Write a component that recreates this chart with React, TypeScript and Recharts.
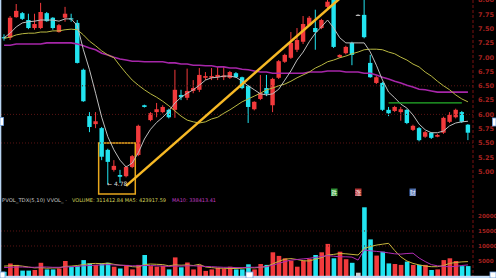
import React from 'react';
import { ComposedChart, Bar, Line, XAxis, YAxis, ReferenceLine, ReferenceArea, Cell } from 'recharts';

const opens = [7.35, 7.34, 7.70, 7.77, 7.65, 7.51, 7.51, 7.77, 7.69, 7.44,
  7.69, 7.68, 7.60, 6.78, 5.97, 5.83, 5.76, 5.38, 5.03, 4.94,
  4.92, 5.08, 5.29, 6.16, 5.90, 6.04, 6.04, 6.08, 6.08, 6.34,
  6.29, 6.41, 6.43, 6.64, 6.64, 6.65, 6.65, 6.64, 6.72, 6.65,
  6.50, 6.09, 6.27, 6.46, 6.16, 6.64, 6.92, 6.99, 7.13, 7.27,
  7.56, 7.51, 7.51, 7.88, 8.02, 7.00, 7.07, 7.25, 7.74, 7.74,
  6.90, 6.55, 6.55, 6.08, 6.06, 6.04, 6.08, 5.73, 5.76, 5.61,
  5.68, 5.61, 5.68, 5.87, 5.95, 6.04, 5.82];
const closes = [7.33, 7.69, 7.81, 7.67, 7.51, 7.58, 7.79, 7.63, 7.51, 7.56,
  7.76, 7.66, 6.90, 6.23, 5.78, 5.88, 5.26, 5.17, 5.10, 4.91,
  5.08, 5.27, 5.80, 6.13, 6.02, 6.09, 6.13, 5.95, 6.43, 6.30,
  6.41, 6.46, 6.69, 6.67, 6.67, 6.69, 6.68, 6.74, 6.65, 6.46,
  6.13, 6.22, 6.37, 6.36, 6.62, 6.93, 7.04, 7.25, 7.30, 7.58,
  7.69, 7.44, 7.65, 7.97, 7.18, 7.04, 7.18, 7.04, 7.74, 7.35,
  6.65, 6.65, 6.08, 6.02, 6.13, 6.09, 5.85, 5.80, 5.55, 5.69,
  5.59, 5.64, 5.94, 5.99, 6.08, 5.87, 5.68];
const highs = [7.40, 7.72, 7.93, 7.79, 7.76, 7.76, 7.95, 7.79, 7.70, 7.58,
  7.88, 7.76, 7.65, 6.80, 6.04, 6.04, 5.78, 5.40, 5.20, 5.03,
  5.10, 5.29, 5.82, 6.17, 6.04, 6.20, 6.16, 6.10, 6.78, 6.43,
  6.80, 6.60, 6.81, 6.74, 6.81, 6.83, 6.83, 6.76, 6.74, 6.66,
  6.51, 6.23, 6.69, 6.69, 6.64, 6.95, 7.06, 7.44, 7.51, 7.72,
  7.72, 7.83, 7.67, 8.05, 8.10, 7.05, 7.20, 7.27, 7.75, 8.00,
  7.04, 6.67, 6.57, 6.13, 6.15, 6.13, 6.09, 5.82, 5.78, 5.71,
  5.69, 5.66, 5.96, 6.04, 6.10, 6.06, 5.83];
const lows = [7.29, 7.30, 7.69, 7.65, 7.49, 7.48, 7.49, 7.62, 7.48, 7.43,
  7.62, 7.62, 6.89, 6.22, 5.69, 5.76, 5.20, 4.78, 5.00, 4.80,
  4.90, 5.06, 5.27, 6.12, 5.88, 5.95, 6.02, 5.93, 5.94, 6.25,
  6.25, 6.37, 6.39, 6.60, 6.60, 6.60, 6.60, 6.62, 6.64, 6.44,
  5.85, 6.07, 6.25, 6.32, 6.04, 6.62, 6.90, 6.97, 7.09, 7.23,
  7.55, 7.13, 7.49, 7.86, 7.16, 6.99, 7.05, 6.86, 7.73, 7.33,
  6.64, 6.53, 6.06, 5.97, 6.04, 5.89, 5.83, 5.71, 5.53, 5.59,
  5.57, 5.60, 5.66, 5.85, 5.93, 5.85, 5.55];
const volumes = [1400, 4200, 3700, 1800, 1800, 2000, 4400, 2200, 2200, 2500,
  5000, 3100, 3300, 5300, 4200, 3700, 4200, 4400, 3100, 2500,
  3700, 2200, 3700, 7000, 3300, 3100, 3400, 2200, 6200, 2900,
  4500, 2200, 3700, 1700, 2200, 2800, 2500, 3100, 2200, 2200,
  3900, 2200, 4000, 3700, 7900, 6700, 5900, 5100, 3100, 5100,
  5700, 7000, 7900, 10700, 5900, 8100, 5600, 4400, 1100, 22900,
  12200, 6800, 8100, 4200, 4000, 3700, 4800, 3700, 3700, 3700,
  2000, 2200, 5300, 5900, 5000, 3300, 3300];
const ma5 = [7.34, 7.42, 7.53, 7.60, 7.62, 7.63, 7.65, 7.65, 7.65, 7.63,
  7.67, 7.67, 7.55, 7.13, 6.78, 6.37, 5.95, 5.61, 5.38, 5.20,
  5.08, 5.15, 5.33, 5.57, 5.74, 5.86, 5.95, 6.06, 6.20, 6.30,
  6.37, 6.43, 6.51, 6.60, 6.64, 6.65, 6.67, 6.67, 6.65, 6.58,
  6.50, 6.43, 6.36, 6.34, 6.36, 6.44, 6.60, 6.76, 6.95, 7.09,
  7.27, 7.42, 7.53, 7.65, 7.51, 7.34, 7.25, 7.25, 7.25, 7.25,
  7.09, 6.86, 6.60, 6.39, 6.29, 6.18, 6.11, 5.99, 5.83, 5.73,
  5.68, 5.68, 5.71, 5.80, 5.85, 5.87, 5.88];
const ma10 = [7.33, 7.35, 7.39, 7.41, 7.42, 7.42, 7.44, 7.44, 7.46, 7.46,
  7.48, 7.49, 7.48, 7.39, 7.28, 7.20, 7.11, 7.04, 6.99, 6.85,
  6.72, 6.60, 6.51, 6.43, 6.36, 6.30, 6.23, 6.15, 6.06, 5.97,
  5.90, 5.87, 5.85, 5.87, 5.92, 5.95, 6.02, 6.08, 6.15, 6.22,
  6.27, 6.32, 6.37, 6.43, 6.46, 6.50, 6.53, 6.58, 6.64, 6.69,
  6.74, 6.81, 6.86, 6.92, 6.95, 6.99, 7.02, 7.06, 7.09, 7.13,
  7.14, 7.14, 7.13, 7.09, 7.06, 7.00, 6.95, 6.88, 6.83, 6.74,
  6.67, 6.58, 6.50, 6.43, 6.34, 6.27, 6.22];
const ma30 = [7.21, 7.21, 7.23, 7.23, 7.23, 7.23, 7.23, 7.25, 7.25, 7.25,
  7.25, 7.25, 7.23, 7.20, 7.16, 7.13, 7.07, 7.04, 7.00, 6.97,
  6.95, 6.93, 6.93, 6.92, 6.92, 6.92, 6.92, 6.90, 6.90, 6.88,
  6.88, 6.86, 6.86, 6.85, 6.85, 6.83, 6.83, 6.81, 6.81, 6.79,
  6.78, 6.76, 6.74, 6.74, 6.72, 6.72, 6.72, 6.72, 6.72, 6.72,
  6.74, 6.74, 6.74, 6.76, 6.76, 6.76, 6.74, 6.74, 6.74, 6.72,
  6.72, 6.69, 6.65, 6.62, 6.58, 6.55, 6.51, 6.48, 6.44, 6.43,
  6.41, 6.39, 6.39, 6.39, 6.39, 6.39, 6.39];
const supportLevel = [null, null, null, null, null, null, null, null, null, null,
  null, null, null, null, null, null, null, null, null, null,
  null, null, null, null, null, null, null, null, null, null,
  null, null, null, null, null, null, null, null, null, null,
  null, null, null, null, null, null, null, null, null, null,
  null, null, null, null, null, null, null, null, null, null,
  null, null, null, 6.20, 6.20, 6.20, 6.20, 6.20, 6.20, 6.20,
  6.20, 6.20, 6.20, 6.20, 6.20, 6.20, null];
const volMa5 = [3300, 3400, 3500, 3300, 3000, 2700, 2800, 2600, 2700, 2700,
  3200, 3300, 3500, 3800, 4100, 4200, 4100, 4300, 3900, 3600,
  3500, 3100, 3000, 3800, 4000, 3900, 3800, 3400, 3700, 3600,
  3700, 3500, 3900, 3000, 2800, 2600, 2600, 2500, 2500, 2600,
  2800, 2700, 2900, 3200, 4000, 4900, 5600, 5800, 5500, 5100,
  5000, 5600, 6100, 7000, 7200, 7500, 7400, 7200, 7000, 9200,
  9800, 10300, 10600, 10900, 8500, 6400, 5000, 4200, 3700, 3300,
  3100, 3100, 3500, 4200, 4500, 4700, 4800];
const volMa10 = [2800, 2900, 3000, 3000, 2900, 2900, 3000, 3000, 2900, 2900,
  3000, 3100, 3200, 3400, 3500, 3600, 3700, 3800, 3700, 3600,
  3500, 3400, 3400, 3500, 3500, 3400, 3300, 3200, 3300, 3300,
  3400, 3400, 3300, 3200, 3100, 3000, 2900, 2900, 2800, 2800,
  2900, 2900, 3000, 3100, 3600, 4200, 4800, 5300, 5500, 5700,
  5900, 6200, 6500, 6800, 6600, 6400, 6400, 6300, 5300, 8700,
  8400, 8200, 8000, 7700, 7400, 7300, 7500, 7600, 6000, 4800,
  3800, 3400, 3200, 3100, 3200, 3500, 3700];

const priceTicks = [5.0, 5.25, 5.5, 5.75, 6.0, 6.25, 6.5, 6.75, 7.0, 7.25, 7.5, 7.75, 8.0];
const volumeTicks = [5000, 10000, 15000, 20000];
const priceGrid = [5.5, 6.0, 6.5];
const volumeGrid = [10000, 15000];
const trendStart = { idx: 20, price: 4.75 };
const trendEnd = { idx: 56, price: 8.12 };
const lowBox = { fromIdx: 16, toIdx: 21, low: 4.61, high: 5.5 };

const RED = '#f23a3c';
const CYAN = '#22e4f0';
const FLAT = '#cfcfcf';

const rows = opens.map((o, i) => ({
  idx: i,
  open: o,
  close: closes[i],
  high: highs[i],
  low: lows[i],
  range: [lows[i], highs[i]],
  ma5: ma5[i],
  ma10: ma10[i],
  ma30: ma30[i],
  support: supportLevel[i],
  vol: volumes[i],
  volMa5: volMa5[i],
  volMa10: volMa10[i],
}));

const colorOf = (r: any) => (r.close > r.open ? RED : r.close < r.open ? CYAN : FLAT);

const Candle = (props: any) => {
  const { x, y, width, height, payload } = props;
  if (!payload || x == null) return null;
  const h = Math.abs(height);
  const top = height >= 0 ? y : y + height;
  const span = payload.high - payload.low;
  const ratio = span > 0 ? h / span : 0;
  const yOf = (v: number) => top + (payload.high - v) * ratio;
  const cx = x + width / 2;
  const bTop = yOf(Math.max(payload.open, payload.close));
  const bBot = yOf(Math.min(payload.open, payload.close));
  const bw = 4.4;
  const c = colorOf(payload);
  return (
    <g>
      <line x1={cx} x2={cx} y1={top} y2={top + h} stroke={c} strokeWidth={1} />
      <rect x={cx - bw / 2} y={bTop} width={bw} height={Math.max(1, bBot - bTop)} fill={c} />
    </g>
  );
};

const axisTick = (size: number) => ({ fill: '#a3201f', fontSize: size, fontFamily: 'DejaVu Sans', fontWeight: 'bold' as const });

export default function App() {
  return (
    <div style={{ position: 'fixed', left: 0, top: 0, width: 496, height: 278, background: '#000', overflow: 'hidden' }}>
      <div style={{ position: 'absolute', left: 0, top: -10 }}>
        <ComposedChart width={496} height={210} data={rows} margin={{ top: 0, right: 0, bottom: 0, left: 0 }}>
          <XAxis dataKey="idx" type="category" hide padding={{ left: 1, right: 2 }} />
          <YAxis
            orientation="right"
            width={23}
            domain={[4.5035, 8.1748]}
            allowDataOverflow
            ticks={priceTicks}
            interval={0}
            tickFormatter={(v: number) => v.toFixed(2)}
            tick={axisTick(6.5)}
            tickLine={false}
            tickSize={0}
            tickMargin={5}
            axisLine={{ stroke: '#7a1010', strokeDasharray: '3 2' }}
          />
          {priceGrid.map((g) => (
            <ReferenceLine key={g} y={g} stroke="#5a1414" strokeDasharray="1 2" />
          ))}
          <Bar dataKey="range" barSize={6} shape={<Candle />} activeBar={false} isAnimationActive={false} />
          <Line dataKey="ma30" stroke="#a626a8" strokeWidth={1.6} dot={false} activeDot={false} isAnimationActive={false} />
          <Line dataKey="ma10" stroke="#b9b842" strokeWidth={1} dot={false} activeDot={false} isAnimationActive={false} />
          <Line dataKey="ma5" stroke="#bdbdbd" strokeWidth={1} dot={false} activeDot={false} isAnimationActive={false} />
          <Line dataKey="support" stroke="#25b12a" strokeWidth={1.3} dot={false} activeDot={false} isAnimationActive={false} />
          <ReferenceArea
            x1={lowBox.fromIdx}
            x2={lowBox.toIdx}
            y1={lowBox.low}
            y2={lowBox.high}
            fill="none"
            fillOpacity={0}
            stroke="#e8a71c"
            strokeWidth={1.5}
            ifOverflow="visible"
          />
          <ReferenceLine
            segment={[{ x: trendStart.idx, y: trendStart.price }, { x: trendEnd.idx, y: trendEnd.price }]}
            stroke="#f7b925"
            strokeWidth={2.5}
            ifOverflow="visible"
          />
        </ComposedChart>
      </div>
      <div style={{ position: 'absolute', left: 0, top: 200 }}>
        <ComposedChart width={496} height={78} data={rows} margin={{ top: 0, right: 0, bottom: 2, left: 0 }}>
          <XAxis dataKey="idx" type="category" hide padding={{ left: 1, right: 2 }} />
          <YAxis
            orientation="right"
            width={23}
            domain={[0, 25333]}
            allowDataOverflow
            ticks={volumeTicks}
            interval={0}
            tick={axisTick(5.6)}
            tickLine={false}
            tickSize={0}
            tickMargin={5}
            axisLine={{ stroke: '#7a1010', strokeDasharray: '3 2' }}
          />
          {volumeGrid.map((g) => (
            <ReferenceLine key={g} y={g} stroke="#5a1414" strokeDasharray="1 2" />
          ))}
          <Bar dataKey="vol" barSize={4.6} activeBar={false} isAnimationActive={false}>
            {rows.map((r) => (
              <Cell key={r.idx} fill={colorOf(r)} />
            ))}
          </Bar>
          <Line dataKey="volMa5" stroke="#c9b63c" strokeWidth={1} dot={false} activeDot={false} isAnimationActive={false} />
          <Line dataKey="volMa10" stroke="#b02cb4" strokeWidth={1} dot={false} activeDot={false} isAnimationActive={false} />
        </ComposedChart>
      </div>
      <svg width={496} height={278} style={{ position: 'absolute', left: 0, top: 0, pointerEvents: 'none' }}>
        <rect x={0} y={0} width={1.3} height={278} fill="#b8d4f2" />
        <rect x={0} y={275.8} width={496} height={2.2} fill="#c4dcf6" />
        <rect x={0} y={117.5} width={3.5} height={8} fill="#ffffff" stroke="#6ea0e0" strokeWidth={0.8} />
        <rect x={492.5} y={118} width={3.5} height={8} fill="#ffffff" stroke="#6ea0e0" strokeWidth={0.8} />
        <rect x={0} y={272} width={5} height={6} fill="#ffffff" stroke="#6ea0e0" strokeWidth={0.8} />
        <rect x={246} y={272} width={7} height={6} fill="#ffffff" stroke="#6ea0e0" strokeWidth={0.8} />
        <rect x={490} y={272} width={6} height={6} fill="#ffffff" stroke="#6ea0e0" strokeWidth={0.8} />
        <text x={107} y={185.5} fontSize={6} fontFamily="DejaVu Sans" fill="#dcdcdc">← 4.78</text>
        <text x={2} y={201.5} fontSize={5} fontFamily="DejaVu Sans" fill="#c8c8c8" textLength={65} lengthAdjust="spacingAndGlyphs">PVOL_TDX(5,10) VVOL_ ·</text>
        <text x={72} y={201.5} fontSize={5} fontFamily="DejaVu Sans" fill="#d4d45a" textLength={94} lengthAdjust="spacingAndGlyphs">VOLUME: 311412.84 MA5: 423917.59</text>
        <text x={172} y={201.5} fontSize={5} fontFamily="DejaVu Sans" fill="#c23cc4" textLength={44} lengthAdjust="spacingAndGlyphs">MA10: 338413.41</text>
        <rect x={331} y={188.5} width={6.5} height={7.5} fill="#2f8f35" />
        <text x={334.25} y={194.6} fontSize={5.8} textAnchor="middle" fontFamily="Noto Sans CJK SC" fill="#e8ffe8">跌</text>
        <rect x={355} y={188.5} width={6.5} height={7.5} fill="#b23434" />
        <text x={358.25} y={194.6} fontSize={5.8} textAnchor="middle" fontFamily="Noto Sans CJK SC" fill="#ffe8e8">涨</text>
        <rect x={409.5} y={188.5} width={6.5} height={7.5} fill="#4a6aa8" />
        <text x={412.75} y={194.6} fontSize={5.8} textAnchor="middle" fontFamily="Noto Sans CJK SC" fill="#e8f0ff">财</text>
      </svg>
    </div>
  );
}
